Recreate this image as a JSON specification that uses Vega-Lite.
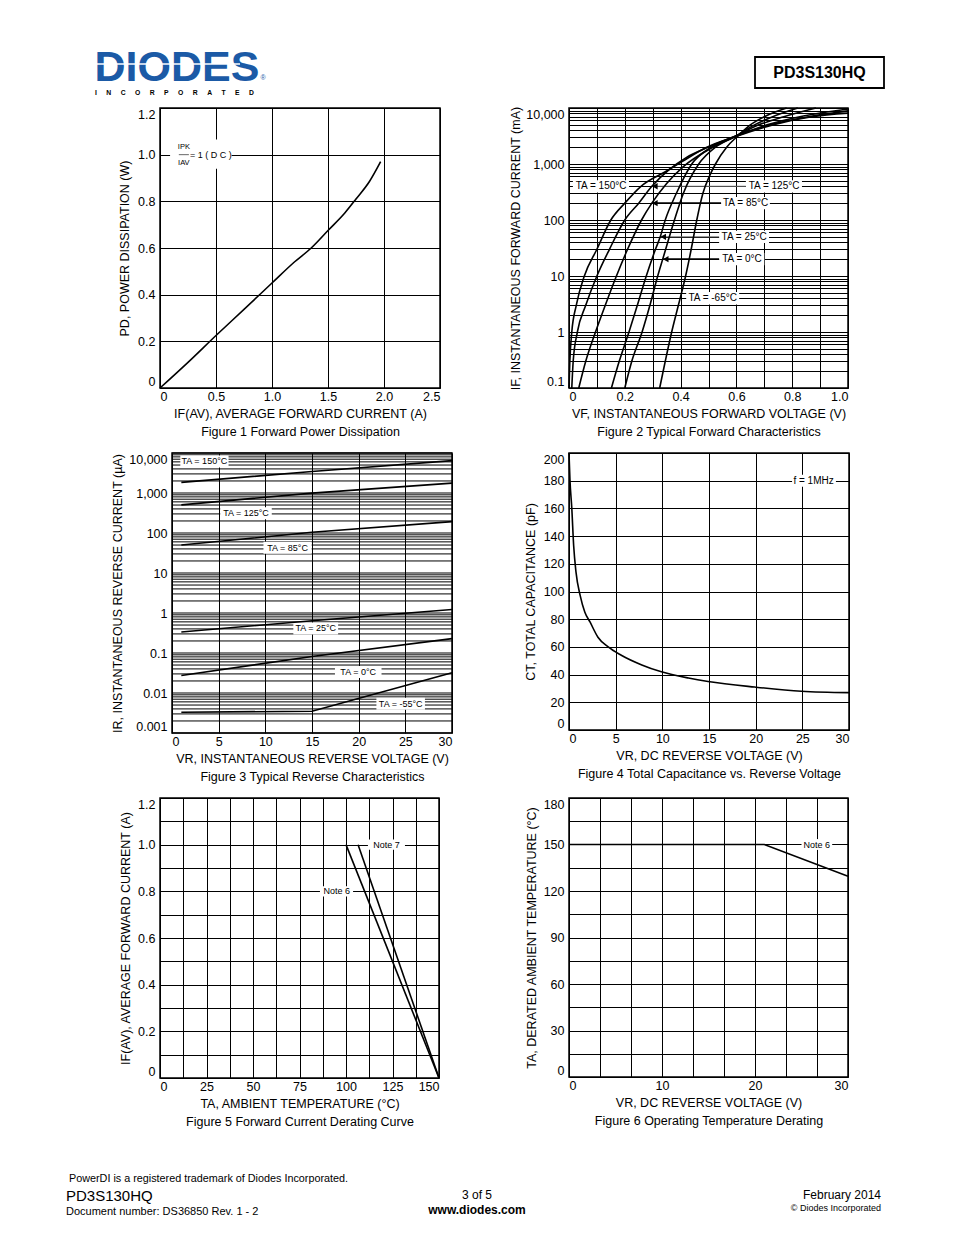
{
"$schema": "https://vega.github.io/schema/vega-lite/v6.json",
"background": "white",
"padding": {"left": 66, "top": 42, "right": 6, "bottom": 6},
"columns": 2,
"align": "each",
"bounds": "flush",
"spacing": {"row": 65, "column": 117},
"config": {
  "font": "Liberation Sans",
  "view": {"stroke": "#000", "strokeWidth": 1.5},
  "axis": {"grid": true, "gridColor": "#000", "gridWidth": 1, "gridOpacity": 1, "domain": false, "ticks": false, "labelFont": "Liberation Sans", "labelFontSize": 12.5, "labelColor": "#000", "titleFont": "Liberation Sans", "titleFontSize": 12.5, "titleFontWeight": "normal", "titleColor": "#000", "titleLineHeight": 17.5, "labelOverlap": false, "titleLimit": 1000, "labelLimit": 200},
  "axisX": {"labelPadding": 2, "titlePadding": 5},
  "axisY": {"labelPadding": 5, "labelFlush": true, "titlePadding": 4},
  "text": {"font": "Liberation Sans", "color": "#000"}
},
"datasets": {
  "f1": [{"x":0,"y":0},{"x":0.25,"y":0.11},{"x":0.5,"y":0.225},{"x":0.75,"y":0.337},{"x":1.0,"y":0.45},{"x":1.2,"y":0.54},{"x":1.35,"y":0.6},{"x":1.5,"y":0.675},{"x":1.65,"y":0.75},{"x":1.75,"y":0.81},{"x":1.87,"y":0.885},{"x":1.97,"y":0.97}],
  "f2": [
    {"t":"150","v":0,"i":0.1},{"t":"150","v":0.003,"i":0.3},{"t":"150","v":0.01,"i":1},{"t":"150","v":0.026,"i":3},{"t":"150","v":0.055,"i":10},{"t":"150","v":0.1,"i":30},{"t":"150","v":0.15,"i":100},{"t":"150","v":0.2,"i":200},{"t":"150","v":0.258,"i":400},{"t":"150","v":0.35,"i":750},{"t":"150","v":0.405,"i":1100},{"t":"150","v":0.49,"i":1950},{"t":"150","v":0.59,"i":3000},{"t":"150","v":0.73,"i":5000},{"t":"150","v":0.87,"i":7000},{"t":"150","v":1.0,"i":8100},
    {"t":"125","v":0.01,"i":0.1},{"t":"125","v":0.015,"i":0.3},{"t":"125","v":0.03,"i":1},{"t":"125","v":0.06,"i":3},{"t":"125","v":0.1,"i":10},{"t":"125","v":0.145,"i":30},{"t":"125","v":0.2,"i":100},{"t":"125","v":0.25,"i":200},{"t":"125","v":0.297,"i":400},{"t":"125","v":0.36,"i":800},{"t":"125","v":0.42,"i":1300},{"t":"125","v":0.5,"i":2000},{"t":"125","v":0.585,"i":3000},{"t":"125","v":0.72,"i":5000},{"t":"125","v":0.86,"i":7000},{"t":"125","v":1.0,"i":8900},
    {"t":"85","v":0.035,"i":0.1},{"t":"85","v":0.06,"i":0.3},{"t":"85","v":0.095,"i":1},{"t":"85","v":0.13,"i":3},{"t":"85","v":0.17,"i":10},{"t":"85","v":0.21,"i":30},{"t":"85","v":0.26,"i":100},{"t":"85","v":0.297,"i":200},{"t":"85","v":0.35,"i":450},{"t":"85","v":0.41,"i":900},{"t":"85","v":0.5,"i":1800},{"t":"85","v":0.59,"i":3000},{"t":"85","v":0.71,"i":5000},{"t":"85","v":0.84,"i":7200},{"t":"85","v":1.0,"i":9600},
    {"t":"25","v":0.152,"i":0.1},{"t":"25","v":0.18,"i":0.3},{"t":"25","v":0.215,"i":1},{"t":"25","v":0.245,"i":3},{"t":"25","v":0.277,"i":10},{"t":"25","v":0.31,"i":30},{"t":"25","v":0.327,"i":50},{"t":"25","v":0.345,"i":100},{"t":"25","v":0.385,"i":300},{"t":"25","v":0.44,"i":1000},{"t":"25","v":0.51,"i":2000},{"t":"25","v":0.59,"i":3000},{"t":"25","v":0.68,"i":5000},{"t":"25","v":0.77,"i":7000},{"t":"25","v":0.885,"i":10000},
    {"t":"0","v":0.2,"i":0.1},{"t":"0","v":0.225,"i":0.3},{"t":"0","v":0.262,"i":1},{"t":"0","v":0.29,"i":3},{"t":"0","v":0.318,"i":10},{"t":"0","v":0.336,"i":20},{"t":"0","v":0.378,"i":100},{"t":"0","v":0.41,"i":300},{"t":"0","v":0.465,"i":1000},{"t":"0","v":0.525,"i":2000},{"t":"0","v":0.59,"i":3000},{"t":"0","v":0.665,"i":5000},{"t":"0","v":0.73,"i":7000},{"t":"0","v":0.82,"i":10000},
    {"t":"-65","v":0.325,"i":0.1},{"t":"-65","v":0.345,"i":0.3},{"t":"-65","v":0.368,"i":1},{"t":"-65","v":0.392,"i":3},{"t":"-65","v":0.418,"i":10},{"t":"-65","v":0.438,"i":30},{"t":"-65","v":0.458,"i":100},{"t":"-65","v":0.48,"i":300},{"t":"-65","v":0.503,"i":600},{"t":"-65","v":0.525,"i":1000},{"t":"-65","v":0.565,"i":2000},{"t":"-65","v":0.6,"i":3000},{"t":"-65","v":0.65,"i":5000},{"t":"-65","v":0.7,"i":7000},{"t":"-65","v":0.78,"i":10000}
  ],
  "l2": [
    {"t":"TA = 150°C","xc":0.115,"x0":0.014,"x1":0.215,"y":400,"y0":310,"y1":515},
    {"t":"TA = 125°C","xc":0.735,"x0":0.634,"x1":0.835,"y":400,"y0":310,"y1":515},
    {"t":"TA = 85°C","xc":0.633,"x0":0.545,"x1":0.72,"y":200,"y0":155,"y1":258},
    {"t":"TA = 25°C","xc":0.628,"x0":0.538,"x1":0.717,"y":50,"y0":38.7,"y1":64.5},
    {"t":"TA = 0°C","xc":0.62,"x0":0.538,"x1":0.7,"y":20,"y0":15.5,"y1":25.8},
    {"t":"TA = -65°C","xc":0.515,"x0":0.42,"x1":0.61,"y":4,"y0":3.1,"y1":5.16}
  ],
  "a2": [
    {"x0":0.297,"x1":0.634,"y":400,"k":"g"},
    {"x0":0.297,"x1":0.545,"y":200,"k":"b"},
    {"x0":0.327,"x1":0.538,"y":50,"k":"g"},
    {"x0":0.336,"x1":0.538,"y":20,"k":"b"}
  ],
  "f3": [
    {"t":"150","v":1,"i":1840},{"t":"150","v":15,"i":3450},{"t":"150","v":30,"i":6450},
    {"t":"125","v":1,"i":506},{"t":"125","v":15,"i":995},{"t":"125","v":30,"i":1770},
    {"t":"85","v":1,"i":50},{"t":"85","v":15,"i":104},{"t":"85","v":30,"i":193},
    {"t":"25","v":1,"i":0.336},{"t":"25","v":15,"i":0.64},{"t":"25","v":30,"i":1.22},
    {"t":"0","v":1,"i":0.0275},{"t":"0","v":15,"i":0.082},{"t":"0","v":30,"i":0.229},
    {"t":"-55","v":1,"i":0.0033},{"t":"-55","v":15,"i":0.0035},{"t":"-55","v":30,"i":0.032}
  ],
  "g3": [{"y":0.001},{"y":0.002},{"y":0.003},{"y":0.004},{"y":0.005},{"y":0.006},{"y":0.007},{"y":0.008},{"y":0.009},{"y":0.01},{"y":0.02},{"y":0.03},{"y":0.04},{"y":0.05},{"y":0.06},{"y":0.07},{"y":0.08},{"y":0.09},{"y":0.1},{"y":0.2},{"y":0.3},{"y":0.4},{"y":0.5},{"y":0.6},{"y":0.7},{"y":0.8},{"y":0.9},{"y":1},{"y":2},{"y":3},{"y":4},{"y":5},{"y":6},{"y":7},{"y":8},{"y":9},{"y":10},{"y":20},{"y":30},{"y":40},{"y":50},{"y":60},{"y":70},{"y":80},{"y":90},{"y":100},{"y":200},{"y":300},{"y":400},{"y":500},{"y":600},{"y":700},{"y":800},{"y":900},{"y":1000},{"y":2000},{"y":3000},{"y":4000},{"y":5000},{"y":6000},{"y":7000},{"y":8000},{"y":9000},{"y":10000}],
  "l3": [
    {"t":"TA = 150°C","xc":3.47,"x0":0.89,"x1":6.06,"y":6170,"y0":4370,"y1":8700},
    {"t":"TA = 125°C","xc":7.93,"x0":5.17,"x1":10.69,"y":313,"y0":222,"y1":442},
    {"t":"TA = 85°C","xc":12.38,"x0":9.8,"x1":14.96,"y":43,"y0":30.5,"y1":60.7},
    {"t":"TA = 25°C","xc":15.4,"x0":13.0,"x1":17.8,"y":0.41,"y0":0.29,"y1":0.58},
    {"t":"TA = 0°C","xc":19.95,"x0":17.46,"x1":22.45,"y":0.0333,"y0":0.0236,"y1":0.047},
    {"t":"TA = -55°C","xc":24.5,"x0":21.9,"x1":27.1,"y":0.0054,"y0":0.0038,"y1":0.0076}
  ],
  "f4": [{"x":0,"y":200},{"x":0.1,"y":181},{"x":0.3,"y":160},{"x":0.5,"y":133},{"x":0.75,"y":114},{"x":1.2,"y":97},{"x":1.7,"y":85},{"x":2.25,"y":78},{"x":3.1,"y":67},{"x":4.2,"y":60},{"x":5.6,"y":54},{"x":7.8,"y":47},{"x":9.9,"y":42},{"x":12.8,"y":37.5},{"x":14.9,"y":35},{"x":19.9,"y":31},{"x":24.9,"y":28},{"x":30,"y":27}],
  "l4": [{"t":"f = 1MHz","xc":26.2,"x0":23.9,"x1":28.6,"y":180,"y0":175.7,"y1":184.3}],
  "f5": [{"t":"6","x":100,"y":1},{"t":"6","x":150,"y":0},{"t":"7","x":106.5,"y":1},{"t":"7","x":150,"y":0}],
  "l5": [
    {"t":"Note 7","xc":121.8,"x0":111.8,"x1":131.7,"y":1.0,"y0":0.978,"y1":1.022},
    {"t":"Note 6","xc":95,"x0":86,"x1":103.8,"y":0.8,"y0":0.778,"y1":0.822}
  ],
  "f6": [{"x":0,"y":150},{"x":21,"y":150},{"x":30,"y":129.5}],
  "l6": [{"t":"Note 6","xc":26.65,"x0":25.0,"x1":28.3,"y":150,"y0":146.5,"y1":153.5}]
},
"concat": [
  {
    "width": 280, "height": 1, "view": {"stroke": null},
    "layer": [
      {"data": {"values": [{"t": "DIODES", "x": 94.5, "y": 80.5}]},
       "mark": {"type": "text", "align": "left", "baseline": "alphabetic", "fontSize": 43, "fontWeight": "bold", "color": "#1b5aa6"},
       "encoding": {"x": {"field": "x", "type": "quantitative", "scale": {"domain": [160, 440], "nice": false, "zero": false}, "axis": null}, "y": {"field": "y", "type": "quantitative", "scale": {"domain": [42, 43], "reverse": true, "nice": false, "zero": false}, "axis": null}, "text": {"field": "t"}}},
      {"data": {"values": [{"x0": 95, "x1": 240, "y": 64}]},
       "mark": {"type": "rule", "color": "white", "strokeWidth": 1.5},
       "encoding": {"x": {"field": "x0", "type": "quantitative", "axis": null}, "x2": {"field": "x1"}, "y": {"field": "y", "type": "quantitative", "axis": null}}},
      {"data": {"values": [{"t": "I\u00a0\u00a0\u00a0\u00a0\u00a0N\u00a0\u00a0\u00a0\u00a0\u00a0C\u00a0\u00a0\u00a0\u00a0\u00a0O\u00a0\u00a0\u00a0\u00a0\u00a0R\u00a0\u00a0\u00a0\u00a0\u00a0P\u00a0\u00a0\u00a0\u00a0\u00a0O\u00a0\u00a0\u00a0\u00a0\u00a0R\u00a0\u00a0\u00a0\u00a0\u00a0A\u00a0\u00a0\u00a0\u00a0\u00a0T\u00a0\u00a0\u00a0\u00a0\u00a0E\u00a0\u00a0\u00a0\u00a0\u00a0D", "x": 95, "y": 93}]},
       "mark": {"type": "text", "fontSize": 6.8, "fontWeight": "bold", "align": "left", "baseline": "middle"},
       "encoding": {"x": {"field": "x", "type": "quantitative", "axis": null}, "y": {"field": "y", "type": "quantitative", "axis": null}, "text": {"field": "t"}}},
      {"data": {"values": [{"t": "®", "x": 263, "y": 78}]},
       "mark": {"type": "text", "fontSize": 7, "align": "center", "baseline": "middle", "color": "#1b5aa6"},
       "encoding": {"x": {"field": "x", "type": "quantitative", "axis": null}, "y": {"field": "y", "type": "quantitative", "axis": null}, "text": {"field": "t"}}}
    ]
  },
  {
    "width": 280, "height": 1, "view": {"stroke": null},
    "layer": [
      {"data": {"values": [{"x0": 755, "x1": 884, "y0": 57, "y1": 88}]},
       "mark": {"type": "rect", "fill": "white", "stroke": "#000", "strokeWidth": 1.8},
       "encoding": {"x": {"field": "x0", "type": "quantitative", "scale": {"domain": [569, 849], "nice": false, "zero": false}, "axis": null}, "x2": {"field": "x1"}, "y": {"field": "y0", "type": "quantitative", "scale": {"domain": [42, 43], "reverse": true, "nice": false, "zero": false}, "axis": null}, "y2": {"field": "y1"}}},
      {"data": {"values": [{"t": "PD3S130HQ", "x": 819.5, "y": 72.5}]},
       "mark": {"type": "text", "fontSize": 16, "fontWeight": "bold", "align": "center", "baseline": "middle"},
       "encoding": {"x": {"field": "x", "type": "quantitative", "axis": null}, "y": {"field": "y", "type": "quantitative", "axis": null}, "text": {"field": "t"}}}
    ]
  },
  {
    "width": 280, "height": 280,
    "layer": [
      {"data": {"values": [{"x0": 0.09, "x1": 0.64, "y0": 0.94, "y1": 1.065}]},
       "mark": {"type": "rect", "fill": "white"},
       "encoding": {
         "x": {"field": "x0", "type": "quantitative", "scale": {"domain": [0, 2.5], "nice": false, "zero": false},
               "axis": {"values": [0, 0.5, 1, 1.5, 2, 2.5], "tickCount": 1000, "labelOverlap": false, "labelExpr": "datum.value == 0 ? '0' : format(datum.value, '.1f')", "title": ["IF(AV), AVERAGE FORWARD CURRENT (A)", "Figure 1 Forward Power Dissipation"]}},
         "x2": {"field": "x1"},
         "y": {"field": "y0", "type": "quantitative", "scale": {"domain": [0, 1.2], "nice": false, "zero": false},
               "axis": {"values": [0, 0.2, 0.4, 0.6, 0.8, 1, 1.2], "tickCount": 1000, "labelOverlap": false, "labelExpr": "datum.value == 0 ? '0' : format(datum.value, '.1f')", "title": "PD,  POWER DISSIPATION (W)", "titlePadding": 6.5}},
         "y2": {"field": "y1"}}},
      {"data": {"name": "f1"},
       "mark": {"type": "line", "interpolate": "monotone", "color": "#000", "strokeWidth": 1.6},
       "encoding": {"x": {"field": "x", "type": "quantitative"}, "y": {"field": "y", "type": "quantitative"}}},
      {"data": {"values": [{"x0": 0.168, "x1": 0.258, "y": 1.0}]},
       "mark": {"type": "rule", "color": "#000", "strokeWidth": 0.6},
       "encoding": {"x": {"field": "x0", "type": "quantitative"}, "x2": {"field": "x1"}, "y": {"field": "y", "type": "quantitative"}}},
      {"data": {"values": [{"t": "IPK", "x": 0.213, "y": 1.034}, {"t": "IAV", "x": 0.213, "y": 0.966}]},
       "mark": {"type": "text", "fontSize": 7.5, "baseline": "middle"},
       "encoding": {"x": {"field": "x", "type": "quantitative"}, "y": {"field": "y", "type": "quantitative"}, "text": {"field": "t"}}},
      {"data": {"values": [{"t": "= 1 ( D C )", "x": 0.268, "y": 1.0}]},
       "mark": {"type": "text", "fontSize": 9, "align": "left", "baseline": "middle"},
       "encoding": {"x": {"field": "x", "type": "quantitative"}, "y": {"field": "y", "type": "quantitative"}, "text": {"field": "t"}}}
    ]
  },
  {
    "width": 279, "height": 280,
    "layer": [
      {"data": {"name": "l2"},
       "mark": {"type": "rect", "fill": "white"},
       "encoding": {
         "x": {"field": "x0", "type": "quantitative", "scale": {"domain": [0, 1], "nice": false, "zero": false},
               "axis": {"values": [0, 0.1, 0.2, 0.3, 0.4, 0.5, 0.6, 0.7, 0.8, 0.9, 1], "tickCount": 1000, "labelOverlap": false, "labelExpr": "datum.value == 0 ? '0' : (indexof([0.2, 0.4, 0.6, 0.8, 1], datum.value) >= 0 ? format(datum.value, '.1f') : '')", "title": ["VF, INSTANTANEOUS FORWARD VOLTAGE (V)", "Figure 2 Typical Forward Characteristics"]}},
         "x2": {"field": "x1"},
         "y": {"field": "y0", "type": "quantitative", "scale": {"type": "log", "domain": [0.1, 10000], "nice": false},
               "axis": {"values": [0.1,0.2,0.3,0.4,0.5,0.6,0.7,0.8,0.9,1,2,3,4,5,6,7,8,9,10,20,30,40,50,60,70,80,90,100,200,300,400,500,600,700,800,900,1000,2000,3000,4000,5000,6000,7000,8000,9000,10000], "tickCount": 1000, "labelOverlap": false, "format": ",", "labelExpr": "indexof(['0.1','1','10','100','1,000','10,000'], datum.label) >= 0 ? datum.label : ''", "title": "IF, INSTANTANEOUS FORWARD CURRENT (mA)", "titlePadding": 3.5}},
         "y2": {"field": "y1"}}},
      {"data": {"name": "a2"}, "transform": [{"filter": "datum.k == 'g'"}],
       "mark": {"type": "rule", "color": "#666", "strokeWidth": 1},
       "encoding": {"x": {"field": "x0", "type": "quantitative"}, "x2": {"field": "x1"}, "y": {"field": "y", "type": "quantitative"}}},
      {"data": {"name": "a2"}, "transform": [{"filter": "datum.k == 'b'"}],
       "mark": {"type": "rule", "color": "#000", "strokeWidth": 1.8},
       "encoding": {"x": {"field": "x0", "type": "quantitative"}, "x2": {"field": "x1"}, "y": {"field": "y", "type": "quantitative"}}},
      {"data": {"name": "a2"},
       "mark": {"type": "point", "shape": "triangle-left", "filled": true, "color": "#000", "opacity": 1, "size": 40, "xOffset": 3},
       "encoding": {"x": {"field": "x0", "type": "quantitative"}, "y": {"field": "y", "type": "quantitative"}}},
      {"data": {"name": "f2"},
       "mark": {"type": "line", "interpolate": "monotone", "color": "#000", "strokeWidth": 1.6},
       "encoding": {"x": {"field": "v", "type": "quantitative"}, "y": {"field": "i", "type": "quantitative"}, "detail": {"field": "t"}, "order": {"field": "i", "type": "quantitative"}}},
      {"data": {"name": "l2"},
       "mark": {"type": "text", "fontSize": 10, "baseline": "middle"},
       "encoding": {"x": {"field": "xc", "type": "quantitative"}, "y": {"field": "y", "type": "quantitative"}, "text": {"field": "t"}}}
    ]
  },
  {
    "width": 292, "height": 280, "view": {"stroke": null},
    "layer": [
      {"data": {"name": "g3"},
       "mark": {"type": "rule", "color": "#000", "strokeWidth": 1},
       "encoding": {
         "y": {"field": "y", "type": "quantitative", "scale": {"type": "log", "domain": [0.001, 10000], "nice": false},
               "axis": {"grid": false, "offset": -12, "values": [0.001,0.01,0.1,1,10,100,1000,10000], "tickCount": 1000, "labelOverlap": false, "format": ",", "title": "IR, INSTANTANEOUS REVERSE CURRENT (µA)", "titlePadding": 4.5}},
         "x": {"datum": 0}, "x2": {"datum": 30}}},
      {"data": {"name": "l3"},
       "mark": {"type": "rect", "fill": "white"},
       "encoding": {
         "x": {"field": "x0", "type": "quantitative", "scale": {"domain": [0, 30], "rangeMin": 12, "nice": false, "zero": false},
               "axis": {"values": [0, 5, 10, 15, 20, 25, 30], "tickCount": 1000, "format": "~g", "labelOverlap": false, "title": ["VR, INSTANTANEOUS REVERSE VOLTAGE (V)", "Figure 3 Typical Reverse Characteristics"]}},
         "x2": {"field": "x1"},
         "y": {"field": "y0", "type": "quantitative", "scale": {"type": "log", "domain": [0.001, 10000], "nice": false}},
         "y2": {"field": "y1"}}},
      {"data": {"name": "f3"},
       "mark": {"type": "line", "color": "#000", "strokeWidth": 1.6},
       "encoding": {"x": {"field": "v", "type": "quantitative"}, "y": {"field": "i", "type": "quantitative"}, "detail": {"field": "t"}}},
      {"data": {"name": "l3"},
       "mark": {"type": "text", "fontSize": 9, "baseline": "middle"},
       "encoding": {"x": {"field": "xc", "type": "quantitative"}, "y": {"field": "y", "type": "quantitative"}, "text": {"field": "t"}}},
      {"data": {"values": [{"f": 1}]},
       "mark": {"type": "rect", "filled": false, "stroke": "#000", "strokeWidth": 1.5},
       "encoding": {"x": {"datum": 0}, "x2": {"datum": 30}, "y": {"datum": 0.001}, "y2": {"datum": 10000}}}
    ]
  },
  {
    "width": 280, "height": 277,
    "layer": [
      {"data": {"name": "l4"},
       "mark": {"type": "rect", "fill": "white"},
       "encoding": {
         "x": {"field": "x0", "type": "quantitative", "scale": {"domain": [0, 30], "nice": false, "zero": false},
               "axis": {"values": [0, 5, 10, 15, 20, 25, 30], "tickCount": 1000, "format": "~g", "labelOverlap": false, "title": ["VR, DC REVERSE VOLTAGE (V)", "Figure 4 Total Capacitance vs. Reverse Voltage"]}},
         "x2": {"field": "x1"},
         "y": {"field": "y0", "type": "quantitative", "scale": {"domain": [0, 200], "nice": false, "zero": false},
               "axis": {"values": [0, 20, 40, 60, 80, 100, 120, 140, 160, 180, 200], "tickCount": 1000, "format": "~g", "labelOverlap": false, "title": "CT, TOTAL CAPACITANCE (pF)", "titlePadding": 5.5}},
         "y2": {"field": "y1"}}},
      {"data": {"name": "f4"},
       "mark": {"type": "line", "interpolate": "monotone", "color": "#000", "strokeWidth": 1.6},
       "encoding": {"x": {"field": "x", "type": "quantitative"}, "y": {"field": "y", "type": "quantitative"}}},
      {"data": {"name": "l4"},
       "mark": {"type": "text", "fontSize": 10, "baseline": "middle"},
       "encoding": {"x": {"field": "xc", "type": "quantitative"}, "y": {"field": "y", "type": "quantitative"}, "text": {"field": "t"}}}
    ]
  },
  {
    "width": 279, "height": 280,
    "layer": [
      {"data": {"name": "l5"},
       "mark": {"type": "rect", "fill": "white"},
       "encoding": {
         "x": {"field": "x0", "type": "quantitative", "scale": {"domain": [0, 150], "nice": false, "zero": false},
               "axis": {"values": [0, 12.5, 25, 37.5, 50, 62.5, 75, 87.5, 100, 112.5, 125, 137.5, 150], "tickCount": 1000, "format": "~g", "labelOverlap": false, "labelExpr": "datum.value % 25 == 0 ? datum.label : ''", "title": ["TA, AMBIENT  TEMPERATURE (°C)", "Figure 5 Forward Current Derating Curve"]}},
         "x2": {"field": "x1"},
         "y": {"field": "y0", "type": "quantitative", "scale": {"domain": [0, 1.2], "nice": false, "zero": false},
               "axis": {"values": [0, 0.1, 0.2, 0.3, 0.4, 0.5, 0.6, 0.7, 0.8, 0.9, 1, 1.1, 1.2], "tickCount": 1000, "labelOverlap": false, "labelExpr": "datum.value == 0 ? '0' : (indexof([0.2, 0.4, 0.6, 0.8, 1, 1.2], datum.value) >= 0 ? format(datum.value, '.1f') : '')", "title": "IF(AV), AVERAGE FORWARD CURRENT (A)", "titlePadding": 5.5}},
         "y2": {"field": "y1"}}},
      {"data": {"name": "f5"},
       "mark": {"type": "line", "color": "#000", "strokeWidth": 1.6},
       "encoding": {"x": {"field": "x", "type": "quantitative"}, "y": {"field": "y", "type": "quantitative"}, "detail": {"field": "t"}}},
      {"data": {"name": "l5"},
       "mark": {"type": "text", "fontSize": 9, "baseline": "middle"},
       "encoding": {"x": {"field": "xc", "type": "quantitative"}, "y": {"field": "y", "type": "quantitative"}, "text": {"field": "t"}}}
    ]
  },
  {
    "width": 279, "height": 279,
    "layer": [
      {"data": {"name": "l6"},
       "mark": {"type": "rect", "fill": "white"},
       "encoding": {
         "x": {"field": "x0", "type": "quantitative", "scale": {"domain": [0, 30], "nice": false, "zero": false},
               "axis": {"values": [0, 3.3333333, 6.6666667, 10, 13.3333333, 16.6666667, 20, 23.3333333, 26.6666667, 30], "tickCount": 1000, "format": "~g", "labelOverlap": false, "labelExpr": "datum.value % 10 == 0 ? datum.label : ''", "title": ["VR, DC REVERSE VOLTAGE (V)", "Figure 6 Operating Temperature Derating"]}},
         "x2": {"field": "x1"},
         "y": {"field": "y0", "type": "quantitative", "scale": {"domain": [0, 180], "nice": false, "zero": false},
               "axis": {"values": [0, 15, 30, 45, 60, 75, 90, 105, 120, 135, 150, 165, 180], "tickCount": 1000, "format": "~g", "labelOverlap": false, "labelExpr": "datum.value % 30 == 0 ? datum.label : ''", "title": "TA, DERATED AMBIENT TEMPERATURE (°C)", "titlePadding": 4.5}},
         "y2": {"field": "y1"}}},
      {"data": {"name": "f6"},
       "mark": {"type": "line", "color": "#000", "strokeWidth": 1.6},
       "encoding": {"x": {"field": "x", "type": "quantitative"}, "y": {"field": "y", "type": "quantitative"}}},
      {"data": {"name": "l6"},
       "mark": {"type": "text", "fontSize": 9, "baseline": "middle"},
       "encoding": {"x": {"field": "xc", "type": "quantitative"}, "y": {"field": "y", "type": "quantitative"}, "text": {"field": "t"}}}
    ]
  },
  {
    "width": 280, "height": 80, "view": {"stroke": null},
    "layer": [
      {"data": {"values": [{"t": "PowerDI is a registered trademark of Diodes Incorporated.", "x": 69, "y": 1179}]},
       "mark": {"type": "text", "fontSize": 10.8, "align": "left", "baseline": "middle"},
       "encoding": {"x": {"field": "x", "type": "quantitative", "scale": {"domain": [160, 440], "nice": false, "zero": false}, "axis": null}, "y": {"field": "y", "type": "quantitative", "scale": {"domain": [1143, 1223], "reverse": true, "nice": false, "zero": false}, "axis": null}, "text": {"field": "t"}}},
      {"data": {"values": [{"t": "PD3S130HQ", "x": 66, "y": 1196}]},
       "mark": {"type": "text", "fontSize": 15, "align": "left", "baseline": "middle"},
       "encoding": {"x": {"field": "x", "type": "quantitative", "axis": null}, "y": {"field": "y", "type": "quantitative", "axis": null}, "text": {"field": "t"}}},
      {"data": {"values": [{"t": "Document number: DS36850  Rev. 1 - 2", "x": 66, "y": 1212}]},
       "mark": {"type": "text", "fontSize": 11, "align": "left", "baseline": "middle"},
       "encoding": {"x": {"field": "x", "type": "quantitative", "axis": null}, "y": {"field": "y", "type": "quantitative", "axis": null}, "text": {"field": "t"}}},
      {"data": {"values": [{"t": "3 of 5", "x": 477, "y": 1195}]},
       "mark": {"type": "text", "fontSize": 12, "align": "center", "baseline": "middle"},
       "encoding": {"x": {"field": "x", "type": "quantitative", "axis": null}, "y": {"field": "y", "type": "quantitative", "axis": null}, "text": {"field": "t"}}},
      {"data": {"values": [{"t": "www.diodes.com", "x": 477, "y": 1210}]},
       "mark": {"type": "text", "fontSize": 12, "fontWeight": "bold", "align": "center", "baseline": "middle"},
       "encoding": {"x": {"field": "x", "type": "quantitative", "axis": null}, "y": {"field": "y", "type": "quantitative", "axis": null}, "text": {"field": "t"}}},
      {"data": {"values": [{"t": "February 2014", "x": 881, "y": 1195}]},
       "mark": {"type": "text", "fontSize": 12, "align": "right", "baseline": "middle"},
       "encoding": {"x": {"field": "x", "type": "quantitative", "axis": null}, "y": {"field": "y", "type": "quantitative", "axis": null}, "text": {"field": "t"}}},
      {"data": {"values": [{"t": "© Diodes Incorporated", "x": 881, "y": 1208}]},
       "mark": {"type": "text", "fontSize": 9, "align": "right", "baseline": "middle"},
       "encoding": {"x": {"field": "x", "type": "quantitative", "axis": null}, "y": {"field": "y", "type": "quantitative", "axis": null}, "text": {"field": "t"}}}
    ]
  }
]
}
